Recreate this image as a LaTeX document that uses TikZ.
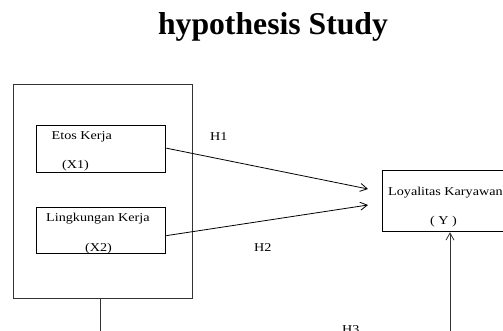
\documentclass[tikz,border=0pt]{standalone}
\usepackage{fontspec}
\setmainfont{Liberation Serif}
\usetikzlibrary{arrows.meta}
\newcommand{\wtxt}[1]{\scalebox{1.18}[1]{#1}}
\tikzset{
  frame/.style={draw=black!80, line width=0.9pt, anchor=north west, inner sep=0pt},
  varbox/.style={draw, line width=1.3pt, anchor=north west, inner sep=0pt},
  lbl/.style={anchor=base west, inner sep=0pt, font=\fontsize{12}{14}\selectfont},
  hyp/.style={line width=0.8pt, -{Straight Barb[length=7pt,width=8pt]}}
}
\begin{document}
\begin{tikzpicture}[x=1pt,y=-1pt]
	\useasboundingbox (0,0) rectangle (503,331);
	\clip (0,0) rectangle (503,331);
	\node[anchor=base, inner sep=0pt, font=\fontsize{31.7}{36}\selectfont\bfseries] (title) at (273,35) {hypothesis Study};
	% boxes
	\node[frame, minimum width=179pt, minimum height=214pt] (outer) at (13,84) {};
	\node[varbox, minimum width=129pt, minimum height=47pt] (etos) at (36,125) {};
	\node[varbox, minimum width=129pt, minimum height=46pt] (lingk) at (36,207) {};
	\node[varbox, minimum width=140pt, minimum height=61pt] (loyal) at (382,170) {};
	% texts
	\node[lbl] (etosA) at (51.5,140) {\wtxt{Etos Kerja}};
	\node[lbl] (etosB) at (62,169) {\wtxt{(X1)}};
	\node[lbl] (lingkA) at (46,222) {\wtxt{Lingkungan Kerja}};
	\node[lbl] (lingkB) at (85,251) {\wtxt{(X2)}};
	\node[lbl] (loyalA) at (388,196) {\wtxt{Loyalitas Karyawan}};
	\node[lbl] (loyalB) at (430,224) {\wtxt{( Y )}};
	\node[lbl] (h1) at (210,141) {\wtxt{H1}};
	\node[lbl] (h2) at (254,251) {\wtxt{H2}};
	\node[lbl] (h3) at (342,333) {\wtxt{H3}};
	% connectors
	\coordinate (h1end) at (368,189);
	\coordinate (h2end) at (368,205);
	\coordinate (h3start) at (450,335);
	\coordinate (down) at (100,335);
	\draw[hyp] ([yshift=1pt]etos.east) -- (h1end);
	\draw[hyp] ([yshift=-5pt]lingk.east) -- (h2end);
	\draw[line width=0.9pt, black!80] (outer.south -| down) -- (down);
	\draw[hyp, black!80] (h3start) -- (h3start |- loyal.south);
\end{tikzpicture}
\end{document}
